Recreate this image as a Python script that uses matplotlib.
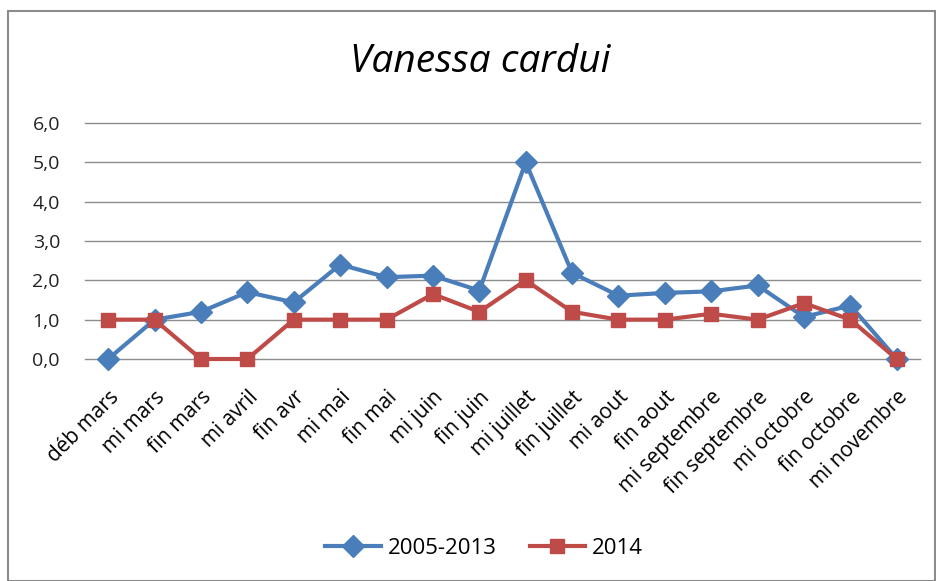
import matplotlib.pyplot as plt
from matplotlib.patches import Rectangle
from matplotlib.ticker import FuncFormatter

categories = ["déb mars", "mi mars", "fin mars", "mi avril", "fin avr", "mi mai",
              "fin mai", "mi juin", "fin juin", "mi juillet", "fin juillet", "mi aout",
              "fin aout", "mi septembre", "fin septembre", "mi octobre", "fin octobre",
              "mi novembre"]
serie_2005_2013 = [0.0, 1.0, 1.2, 1.7, 1.44, 2.4, 2.08, 2.12, 1.74, 5.0, 2.19, 1.61,
                   1.68, 1.72, 1.87, 1.07, 1.36, 0.0]
serie_2014 = [1.0, 1.0, 0.0, 0.0, 1.0, 1.0, 1.0, 1.65, 1.2, 2.0, 1.2, 1.0,
              1.0, 1.15, 1.0, 1.42, 1.0, 0.0]
yticks = [0, 1, 2, 3, 4, 5, 6]

plt.rcParams['font.family'] = ['Open Sans', 'DejaVu Sans']

fig = plt.figure(figsize=(9.37, 5.81), dpi=100)
ax = fig.add_axes([85 / 937, 1 - 359 / 581, (920 - 85) / 937, (359 - 123) / 581])

# cadre du graphique
fig.patches.append(Rectangle((8 / 937, 0), 927 / 937, 1 - 11 / 581,
                             transform=fig.transFigure, fill=False,
                             edgecolor='#8c8c8c', linewidth=1.5))

x = list(range(len(categories)))
ax.plot(x, serie_2005_2013, color='#4A7EBB', linewidth=3, marker='D',
        markersize=11, label='2005-2013', zorder=3, clip_on=False)
ax.plot(x, serie_2014, color='#BE4B48', linewidth=3, marker='s',
        markersize=10, label='2014', zorder=4, clip_on=False)

ax.set_xlim(-0.5, len(categories) - 0.5)
ax.set_ylim(0, 6)
ax.set_yticks(yticks)
ax.yaxis.set_major_formatter(FuncFormatter(lambda v, p: f"{v:.1f}".replace('.', ',')))
ax.set_xticks(x)
ax.set_xticklabels(categories, rotation=45, ha='right', rotation_mode='anchor',
                   fontsize=15)
ax.tick_params(axis='y', length=0, labelsize=14, pad=18)
ax.tick_params(axis='x', length=0, pad=20)
ax.grid(axis='y', color='#8c8c8c', linewidth=1)
for gl in ax.get_ygridlines():
    gl.set_clip_on(False)
ax.set_axisbelow(True)
for s in ax.spines.values():
    s.set_visible(False)
for lbl in ax.get_yticklabels():
    lbl.set_color('#222222')

fig.text(480 / 937, 1 - 62 / 581, "Vanessa cardui", ha='center', va='center',
         fontsize=28, style='italic')

fig.legend(loc='center', bbox_to_anchor=(484 / 937, 1 - 548 / 581), ncol=2,
           frameon=False, fontsize=16, handlelength=2.5, columnspacing=1.5,
           handletextpad=0.3)

fig.savefig("out.png", dpi=100)
